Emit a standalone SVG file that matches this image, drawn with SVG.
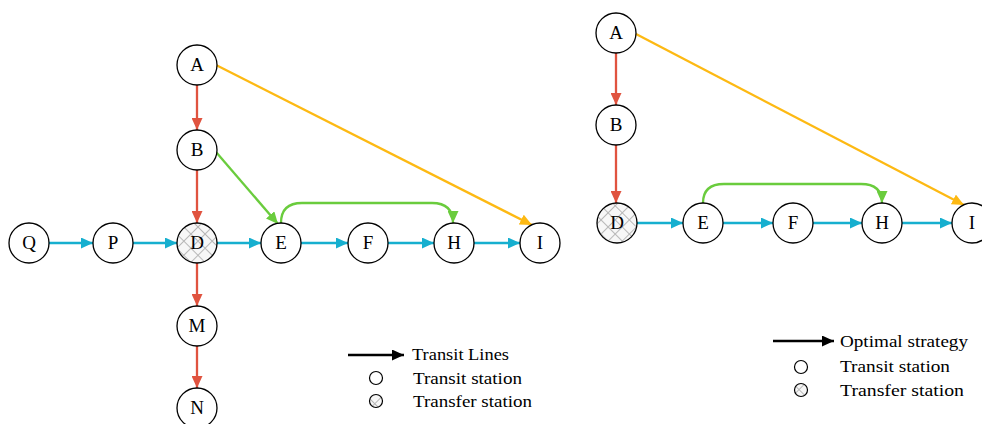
<svg xmlns="http://www.w3.org/2000/svg" width="982" height="424" viewBox="0 0 982 424">
<defs>
<pattern id="hatch" patternUnits="userSpaceOnUse" width="10" height="10" patternTransform="rotate(45)">
<rect width="10" height="10" fill="#f7f7f7"/>
<line x1="0" y1="0" x2="0" y2="10" stroke="#b8b8b8" stroke-width="2"/>
<line x1="0" y1="0" x2="10" y2="0" stroke="#b8b8b8" stroke-width="2"/>
</pattern>
<marker id="mr" markerUnits="userSpaceOnUse" markerWidth="13" markerHeight="11" refX="12" refY="5.5" orient="auto"><path d="M0,0 L12,5.5 L0,11 Z" fill="#e0533f"/></marker>
<marker id="mc" markerUnits="userSpaceOnUse" markerWidth="13" markerHeight="11" refX="12" refY="5.5" orient="auto"><path d="M0,0 L12,5.5 L0,11 Z" fill="#16afcf"/></marker>
<marker id="mo" markerUnits="userSpaceOnUse" markerWidth="13" markerHeight="11" refX="12" refY="5.5" orient="auto"><path d="M0,0 L12,5.5 L0,11 Z" fill="#fdb913"/></marker>
<marker id="mg" markerUnits="userSpaceOnUse" markerWidth="13" markerHeight="11" refX="12" refY="5.5" orient="auto"><path d="M0,0 L12,5.5 L0,11 Z" fill="#6acc3d"/></marker>
<marker id="mk" markerUnits="userSpaceOnUse" markerWidth="13" markerHeight="11" refX="12" refY="5.5" orient="auto"><path d="M0,0 L12,5.5 L0,11 Z" fill="#000"/></marker>
</defs>
<style>
.n circle{fill:#fff;stroke:#000;stroke-width:1.3}
.n.t circle{fill:url(#hatch)}
.n text{font-family:"Liberation Serif",serif;font-size:19px;text-anchor:middle;fill:#000}
.e{fill:none;stroke-width:2.3}
.r{stroke:#e0533f;marker-end:url(#mr)}
.c{stroke:#16afcf;marker-end:url(#mc)}
.o{stroke:#fdb913;marker-end:url(#mo)}
.g{stroke:#6acc3d;marker-end:url(#mg)}
.k{stroke:#000;marker-end:url(#mk)}
.lg text{font-family:"Liberation Serif",serif;font-size:17px;fill:#000}
.lg circle{fill:#fff;stroke:#000;stroke-width:1.2}
</style>
<g id="connectors">
<line class="e r" x1="197" y1="85" x2="197" y2="130"/>
<line class="e r" x1="197" y1="170" x2="197" y2="223"/>
<line class="e r" x1="197" y1="263" x2="197" y2="306"/>
<line class="e r" x1="197" y1="346" x2="197" y2="388"/>
<line class="e c" x1="49" y1="243" x2="93" y2="243"/>
<line class="e c" x1="133" y1="243" x2="177" y2="243"/>
<line class="e c" x1="217" y1="243" x2="261" y2="243"/>
<line class="e c" x1="301" y1="243" x2="348" y2="243"/>
<line class="e c" x1="388" y1="243" x2="434" y2="243"/>
<line class="e c" x1="474" y1="243" x2="520" y2="243"/>
<line class="e o" x1="216" y1="65" x2="532" y2="225"/>
<line class="e g" x1="216" y1="152" x2="278" y2="224"/>
<path class="e g" d="M281,223 Q281,203 302,203 L432,203 Q453,203 453,223"/>
<line class="e r" x1="616" y1="53" x2="616" y2="105"/>
<line class="e r" x1="616" y1="145" x2="616" y2="203"/>
<line class="e c" x1="637" y1="223" x2="683" y2="223"/>
<line class="e c" x1="723" y1="223" x2="773" y2="223"/>
<line class="e c" x1="813" y1="223" x2="862" y2="223"/>
<line class="e c" x1="902" y1="223" x2="952" y2="223"/>
<line class="e o" x1="636" y1="34" x2="964" y2="205"/>
<path class="e g" d="M703,203 Q703,184 724,184 L861,184 Q882,184 882,203"/>
</g>
<g id="L-A" class="n"><circle cx="197" cy="65" r="20"/><text x="197" y="71">A</text></g>
<g id="L-B" class="n"><circle cx="197" cy="150" r="20"/><text x="197" y="156">B</text></g>
<g id="L-D" class="n t"><circle cx="197" cy="243" r="20"/><text x="197" y="249">D</text></g>
<g id="L-M" class="n"><circle cx="197" cy="326" r="20"/><text x="197" y="332">M</text></g>
<g id="L-N" class="n"><circle cx="197" cy="408" r="20"/><text x="197" y="414">N</text></g>
<g id="L-Q" class="n"><circle cx="29" cy="243" r="20"/><text x="29" y="249">Q</text></g>
<g id="L-P" class="n"><circle cx="113" cy="243" r="20"/><text x="113" y="249">P</text></g>
<g id="L-E" class="n"><circle cx="281" cy="243" r="20"/><text x="281" y="249">E</text></g>
<g id="L-F" class="n"><circle cx="368" cy="243" r="20"/><text x="368" y="249">F</text></g>
<g id="L-H" class="n"><circle cx="454" cy="243" r="20"/><text x="454" y="249">H</text></g>
<g id="L-I" class="n"><circle cx="540" cy="243" r="20"/><text x="540" y="249">I</text></g>
<g id="R-A" class="n"><circle cx="616" cy="33" r="20"/><text x="616" y="39">A</text></g>
<g id="R-B" class="n"><circle cx="616" cy="125" r="20"/><text x="616" y="131">B</text></g>
<g id="R-D" class="n t"><circle cx="617" cy="223" r="20"/><text x="617" y="229">D</text></g>
<g id="R-E" class="n"><circle cx="703" cy="223" r="20"/><text x="703" y="229">E</text></g>
<g id="R-F" class="n"><circle cx="793" cy="223" r="20"/><text x="793" y="229">F</text></g>
<g id="R-H" class="n"><circle cx="882" cy="223" r="20"/><text x="882" y="229">H</text></g>
<g id="R-I" class="n"><circle cx="972" cy="223" r="20"/><text x="972" y="229">I</text></g>
<g id="legend-left" class="lg">
<line class="e k" x1="348" y1="355" x2="404" y2="355"/>
<text x="412" y="360" textLength="97" lengthAdjust="spacingAndGlyphs">Transit Lines</text>
<circle cx="376" cy="378" r="6.5"/>
<text x="413" y="384" textLength="109" lengthAdjust="spacingAndGlyphs">Transit station</text>
<circle cx="376" cy="401" r="6.5" style="fill:url(#hatch)"/>
<text x="413" y="407" textLength="119" lengthAdjust="spacingAndGlyphs">Transfer station</text>
</g>
<g id="legend-right" class="lg">
<line class="e k" x1="773" y1="341" x2="834" y2="341"/>
<text x="840" y="347" textLength="128" lengthAdjust="spacingAndGlyphs">Optimal strategy</text>
<circle cx="801" cy="367" r="6.5"/>
<text x="840" y="372" textLength="110" lengthAdjust="spacingAndGlyphs">Transit station</text>
<circle cx="801" cy="390" r="6.5" style="fill:url(#hatch)"/>
<text x="840" y="396" textLength="124" lengthAdjust="spacingAndGlyphs">Transfer station</text>
</g>
</svg>
